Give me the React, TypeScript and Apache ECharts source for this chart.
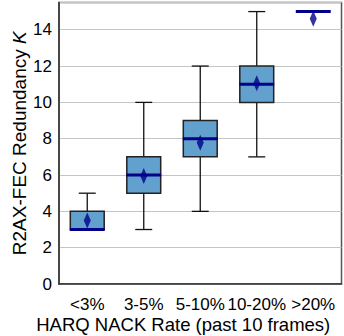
import React, { useEffect, useRef } from "react";
import * as echarts from "echarts";

const categories = ["<3%", "3-5%", "5-10%", "10-20%", ">20%"];
const whiskerLow = [3, 3, 4, 7, 15];
const q1 = [3, 5, 7, 10, 15];
const median = [3, 6, 8, 11, 15];
const q3 = [4, 7, 9, 12, 15];
const whiskerHigh = [5, 10, 12, 15, 15];
const means = [3.5, 5.95, 7.78, 11.05, 14.6];
const yTicks = [0, 2, 4, 6, 8, 10, 12, 14];

const FONT = "'Liberation Sans', Arial, sans-serif";

export default function App() {
  const ref = useRef<HTMLDivElement>(null);
  useEffect(() => {
    if (!ref.current) return;
    const chart = echarts.init(ref.current, null, { renderer: "svg" });
    const boxData = categories.map((_, i) => [i, whiskerLow[i], q1[i], median[i], q3[i], whiskerHigh[i]]);
    chart.setOption({
      animation: false,
      textStyle: { fontFamily: FONT },
      grid: {
        left: 59,
        right: 2.5,
        top: 2.5,
        bottom: 52,
        show: true,
        borderColor: "#555",
        borderWidth: 1.5,
        containLabel: false,
        outerBoundsMode: "none",
      },
      xAxis: {
        type: "category",
        data: categories,
        axisLine: { lineStyle: { color: "#333", width: 1.5 } },
        axisTick: { alignWithLabel: true, length: 5, lineStyle: { color: "#333", width: 1.2 } },
        axisLabel: { fontSize: 17, color: "#000", margin: 12, fontFamily: FONT, interval: 0 },
        name: "HARQ NACK Rate (past 10 frames)",
        nameLocation: "middle",
        nameMoveOverlap: false,
        nameGap: 31,
        nameTextStyle: { fontSize: 18.5, color: "#000", fontFamily: FONT, padding: [0, 34, 0, 0] },
      },
      yAxis: {
        type: "value",
        min: 0,
        max: 15.5,
        interval: 2,
        axisLine: { show: true, lineStyle: { color: "#333", width: 1.5 } },
        axisTick: { show: false },
        axisLabel: {
          fontSize: 17,
          color: "#000",
          margin: 7,
          fontFamily: FONT,
          showMaxLabel: false,
          formatter: (v: number) => (yTicks.includes(v) ? String(v) : ""),
        },
        splitLine: { lineStyle: { color: "#c4c4c4", width: 1.2 } },
        name: "R2AX-FEC Redundancy {i|K}",
        nameLocation: "middle",
        nameMoveOverlap: false,
        nameGap: 30,
        nameTextStyle: {
          fontSize: 19,
          color: "#000",
          fontFamily: FONT,
          rich: { i: { fontStyle: "italic", fontSize: 19, color: "#000", fontFamily: FONT } },
        },
      },
      series: [
        {
          type: "custom",
          data: boxData,
          encode: { x: 0, y: [1, 2, 3, 4, 5] },
          z: 2,
          renderItem: (params: any, api: any) => {
            const x = api.value(0);
            const lo = api.value(1);
            const b1 = api.value(2);
            const med = api.value(3);
            const b3 = api.value(4);
            const hi = api.value(5);
            const bw = api.size([1, 0])[0];
            const boxW = bw * 0.6;
            const capW = bw * 0.3;
            const pLo = api.coord([x, lo]);
            const pQ1 = api.coord([x, b1]);
            const pMed = api.coord([x, med]);
            const pQ3 = api.coord([x, b3]);
            const pHi = api.coord([x, hi]);
            const cx = pLo[0];
            const lineStyle = { stroke: "#111", lineWidth: 1.3 };
            return {
              type: "group",
              children: [
                { type: "line", shape: { x1: cx, y1: pLo[1], x2: cx, y2: pQ1[1] }, style: lineStyle },
                { type: "line", shape: { x1: cx, y1: pQ3[1], x2: cx, y2: pHi[1] }, style: lineStyle },
                { type: "line", shape: { x1: cx - capW / 2, y1: pLo[1], x2: cx + capW / 2, y2: pLo[1] }, style: lineStyle },
                { type: "line", shape: { x1: cx - capW / 2, y1: pHi[1], x2: cx + capW / 2, y2: pHi[1] }, style: lineStyle },
                {
                  type: "rect",
                  shape: { x: cx - boxW / 2, y: pQ3[1], width: boxW, height: pQ1[1] - pQ3[1] },
                  style: { fill: "#62a0cd", stroke: "#222", lineWidth: 1.5 },
                },
                {
                  type: "line",
                  shape: { x1: cx - boxW / 2 - 0.5, y1: pMed[1], x2: cx + boxW / 2 + 0.5, y2: pMed[1] },
                  style: { stroke: "#00008a", lineWidth: 3 },
                },
              ],
            };
          },
        },
        {
          type: "scatter",
          data: means,
          symbol: "diamond",
          symbolSize: [7, 16],
          itemStyle: { color: "#00008a" },
          z: 5,
        },
      ],
    });
    return () => chart.dispose();
  }, []);
  return <div ref={ref} style={{ position: "absolute", left: 0, top: 0, width: 344, height: 336 }} />;
}
